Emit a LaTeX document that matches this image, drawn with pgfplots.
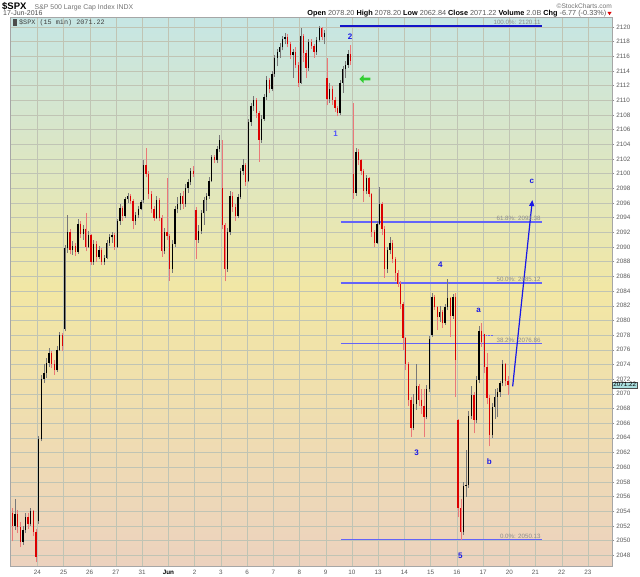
\documentclass[border=0pt]{standalone}
\usepackage{pgfplots}
\usepackage{pgfplotstable}
\pgfplotsset{compat=1.18}
\usepackage{fontspec}
\setmainfont{Liberation Sans}
\setmonofont{Liberation Mono}
\usetikzlibrary{arrows.meta,shapes.arrows}
\definecolor{bgtop}{RGB}{198,230,228}
\definecolor{bgmid}{RGB}{242,231,164}
\definecolor{bgbot}{RGB}{236,210,190}
\definecolor{gridc}{RGB}{192,196,180}
\definecolor{fibc}{RGB}{100,100,248}
\definecolor{fibtop}{RGB}{20,20,200}
\definecolor{ewc}{RGB}{25,25,230}
\definecolor{ewlight}{RGB}{80,80,255}
\definecolor{downc}{RGB}{220,0,0}
\definecolor{downw}{RGB}{235,120,120}
\definecolor{upw}{RGB}{120,120,120}
\definecolor{boxc}{RGB}{170,222,222}
\pgfplotstableread{
t o h l c
0.05 2053.8 2054.4 2049.9 2052.0
0.15 2052.0 2055.6 2051.5 2053.6
0.25 2053.6 2054.2 2051.0 2051.8
0.35 2051.8 2052.5 2049.1 2049.8
0.45 2049.8 2052.0 2049.4 2051.5
0.55 2051.5 2053.8 2051.0 2053.2
0.65 2053.2 2053.8 2051.6 2052.2
0.75 2052.2 2054.5 2052.0 2054.0
0.85 2054.0 2054.2 2050.6 2051.2
0.95 2051.2 2051.6 2047.1 2047.8
1.05 2052.6 2064.2 2052.3 2063.8
1.15 2063.8 2072.6 2063.5 2072.0
1.25 2072.0 2074.0 2071.5 2072.8
1.35 2072.8 2074.9 2072.2 2074.2
1.45 2074.2 2076.2 2073.6 2075.5
1.55 2075.5 2075.8 2073.5 2074.0
1.65 2074.0 2074.6 2072.6 2073.2
1.75 2073.2 2076.5 2073.0 2076.0
1.85 2076.0 2078.4 2075.8 2078.0
1.95 2078.0 2078.3 2075.8 2076.5
2.05 2078.8 2090.3 2078.5 2089.8
2.15 2089.8 2094.3 2089.2 2092.0
2.25 2092.0 2092.4 2089.0 2089.6
2.35 2089.6 2090.8 2088.9 2090.2
2.45 2090.2 2090.5 2088.8 2089.3
2.55 2089.3 2093.8 2089.1 2093.2
2.65 2093.2 2093.5 2091.2 2091.8
2.75 2091.8 2093.0 2091.0 2092.5
2.85 2092.5 2094.7 2089.4 2090.0
2.95 2090.0 2092.2 2089.8 2091.6
3.05 2091.6 2091.8 2087.6 2088.0
3.15 2088.0 2091.0 2087.6 2090.4
3.25 2090.4 2090.8 2088.0 2088.6
3.35 2088.6 2090.2 2088.3 2089.6
3.45 2089.6 2089.8 2087.6 2088.0
3.55 2088.0 2088.9 2087.6 2088.5
3.65 2088.5 2091.0 2088.3 2090.6
3.75 2090.6 2091.8 2090.2 2091.3
3.85 2091.3 2092.0 2090.6 2091.6
3.95 2091.6 2091.9 2089.6 2090.0
4.05 2090.0 2093.8 2089.9 2093.5
4.15 2093.5 2095.8 2093.0 2095.3
4.25 2095.3 2095.6 2093.6 2094.2
4.35 2094.2 2096.8 2094.0 2096.5
4.45 2096.5 2097.4 2096.0 2097.0
4.55 2097.0 2097.2 2095.8 2096.3
4.65 2096.3 2096.5 2092.4 2093.6
4.75 2093.6 2094.8 2093.0 2094.3
4.85 2094.3 2095.6 2094.0 2095.2
4.95 2095.2 2096.4 2095.0 2096.1
5.05 2096.4 2101.8 2096.0 2101.2
5.15 2101.2 2103.5 2099.5 2100.0
5.25 2100.0 2100.3 2096.6 2097.2
5.35 2097.2 2097.6 2094.6 2095.2
5.45 2095.2 2095.6 2093.6 2094.0
5.55 2094.0 2097.0 2093.8 2096.4
5.65 2096.4 2096.7 2093.5 2094.0
5.75 2094.0 2094.3 2088.7 2089.4
5.85 2089.4 2092.6 2089.0 2092.0
5.95 2092.0 2099.4 2091.0 2091.5
6.05 2091.5 2091.8 2085.4 2087.0
6.15 2087.0 2091.0 2086.5 2090.4
6.25 2090.4 2095.6 2090.0 2095.2
6.35 2095.2 2096.8 2094.6 2095.8
6.45 2095.8 2097.4 2095.0 2097.0
6.55 2097.0 2097.6 2095.2 2095.8
6.65 2095.8 2098.6 2095.5 2098.0
6.75 2098.0 2099.2 2097.4 2098.8
6.85 2098.8 2100.8 2098.4 2100.4
6.95 2100.4 2101.0 2099.6 2100.0
7.05 2095.0 2095.4 2088.4 2091.0
7.15 2091.0 2093.0 2090.6 2092.2
7.25 2092.2 2095.0 2091.8 2094.6
7.35 2094.6 2096.8 2093.0 2096.4
7.45 2096.4 2097.4 2094.9 2097.0
7.55 2097.0 2099.5 2096.6 2099.0
7.65 2099.0 2102.6 2098.8 2102.2
7.75 2102.2 2102.6 2101.4 2101.8
7.85 2101.8 2103.8 2101.4 2103.4
7.95 2103.4 2105.3 2103.0 2104.6
8.05 2098.0 2104.6 2092.5 2093.0
8.15 2093.0 2093.3 2085.3 2087.0
8.25 2087.0 2092.6 2086.6 2092.0
8.35 2092.0 2097.6 2091.6 2097.0
8.45 2097.0 2097.5 2094.8 2095.4
8.55 2095.4 2095.8 2093.6 2094.2
8.65 2094.2 2097.2 2094.0 2096.8
8.75 2096.8 2100.8 2096.5 2100.3
8.85 2100.3 2102.0 2099.8 2101.2
8.95 2101.2 2101.5 2098.3 2098.9
9.05 2099.0 2107.5 2098.8 2107.0
9.15 2107.0 2109.6 2106.5 2109.2
9.25 2109.2 2110.6 2108.6 2110.0
9.35 2110.0 2110.3 2107.6 2108.2
9.45 2108.2 2108.6 2101.6 2104.6
9.55 2104.6 2108.0 2104.2 2107.5
9.65 2107.5 2110.9 2107.2 2110.5
9.75 2110.5 2113.3 2110.0 2112.8
9.85 2112.8 2113.0 2111.0 2111.6
9.95 2111.6 2114.0 2111.3 2113.6
10.05 2113.6 2116.2 2113.2 2115.8
10.15 2115.8 2117.0 2114.6 2116.6
10.25 2116.6 2117.8 2115.8 2117.2
10.35 2117.2 2118.8 2116.8 2118.4
10.45 2118.4 2119.2 2117.6 2118.6
10.55 2118.6 2119.0 2117.2 2117.6
10.65 2117.6 2118.0 2115.6 2116.2
10.75 2116.2 2117.0 2113.0 2116.6
10.85 2116.6 2117.2 2114.4 2114.8
10.95 2114.8 2115.2 2111.8 2112.4
11.05 2112.4 2119.8 2112.2 2118.8
11.15 2118.8 2119.0 2115.2 2116.4
11.25 2116.4 2116.8 2113.0 2114.4
11.35 2114.4 2118.4 2114.0 2117.9
11.45 2117.9 2118.4 2117.0 2117.4
11.55 2117.4 2117.6 2115.8 2116.6
11.65 2116.6 2118.6 2116.2 2118.2
11.75 2118.2 2120.11 2118.0 2119.8
11.85 2119.8 2120.0 2118.2 2118.6
11.95 2118.6 2119.6 2117.6 2119.2
12.05 2113.0 2115.7 2109.3 2110.2
12.15 2110.2 2112.4 2109.6 2111.6
12.25 2111.6 2111.9 2109.4 2110.0
12.35 2110.0 2110.4 2108.4 2108.9
12.45 2108.9 2109.2 2107.8 2108.2
12.55 2108.2 2112.8 2108.0 2112.4
12.65 2112.4 2114.6 2111.0 2114.2
12.75 2114.2 2115.4 2113.0 2114.8
12.85 2114.8 2116.8 2114.4 2116.3
12.95 2116.3 2117.5 2114.8 2115.4
13.05 2100.0 2109.6 2096.6 2097.4
13.15 2097.4 2103.5 2097.0 2103.0
13.25 2103.0 2103.4 2101.2 2101.8
13.35 2101.8 2102.0 2099.8 2100.4
13.45 2100.4 2100.6 2096.2 2097.6
13.55 2097.6 2099.8 2097.2 2099.4
13.65 2099.4 2099.6 2096.8 2097.2
13.75 2097.2 2097.4 2091.4 2092.0
13.85 2092.0 2092.3 2090.0 2090.6
13.95 2090.6 2093.6 2090.4 2093.2
14.05 2093.2 2098.2 2093.0 2095.8
14.15 2095.8 2096.2 2091.6 2092.4
14.25 2092.4 2092.8 2085.8 2087.0
14.35 2087.0 2090.0 2086.4 2089.6
14.45 2089.6 2091.4 2089.0 2090.6
14.55 2090.6 2090.9 2087.8 2088.4
14.65 2088.4 2088.7 2085.4 2086.4
14.75 2086.4 2086.8 2084.6 2085.0
14.85 2085.0 2085.3 2081.6 2082.2
14.95 2082.2 2082.5 2076.0 2077.6
15.05 2077.6 2077.8 2073.2 2074.0
15.15 2074.0 2074.3 2068.4 2069.2
15.25 2069.2 2069.6 2064.1 2065.4
15.35 2065.4 2070.0 2065.0 2068.6
15.45 2068.6 2074.1 2067.8 2071.0
15.55 2071.0 2071.4 2068.4 2069.2
15.65 2069.2 2070.6 2067.2 2068.4
15.75 2068.4 2070.6 2064.1 2066.8
15.85 2066.8 2071.2 2066.5 2070.6
15.95 2070.6 2077.9 2070.2 2077.4
16.05 2078.0 2083.8 2077.8 2083.2
16.15 2083.2 2083.4 2081.4 2081.8
16.25 2081.8 2082.0 2078.7 2080.4
16.35 2080.4 2082.0 2079.8 2081.2
16.45 2081.2 2081.4 2079.0 2079.6
16.55 2079.6 2082.2 2079.4 2081.8
16.65 2081.8 2085.7 2081.4 2083.0
16.75 2083.0 2083.2 2077.8 2080.6
16.85 2080.6 2083.6 2080.2 2083.2
16.95 2083.2 2083.8 2069.6 2074.6
17.05 2066.4 2066.6 2053.2 2054.4
17.15 2054.4 2055.6 2050.13 2051.2
17.25 2051.2 2058.0 2050.8 2057.4
17.35 2057.4 2062.3 2056.0 2057.6
17.45 2057.6 2067.6 2057.2 2067.0
17.55 2067.0 2071.0 2066.6 2069.8
17.65 2069.8 2070.2 2064.6 2066.4
17.75 2066.4 2072.4 2066.0 2071.9
17.85 2071.9 2079.2 2071.4 2078.6
17.95 2078.6 2079.6 2076.4 2077.0
18.05 2078.2 2078.2 2072.8 2073.6
18.15 2073.6 2075.5 2068.6 2069.4
18.25 2069.4 2069.8 2062.84 2064.4
18.35 2064.4 2068.8 2064.0 2068.2
18.45 2068.2 2070.6 2066.6 2069.6
18.55 2069.6 2070.8 2066.8 2070.2
18.65 2070.2 2071.8 2069.6 2071.4
18.75 2071.4 2074.6 2071.0 2074.0
18.85 2074.0 2074.2 2071.0 2071.8
18.95 2071.8 2072.4 2069.8 2071.22
}\bars
\begin{document}
\begin{tikzpicture}
\useasboundingbox (0pt,0pt) rectangle (640pt,576pt);
\begin{axis}[
  at={(10.7pt,10pt)}, anchor=south west,
  width=601.6pt, height=548.3pt, scale only axis,
  xmin=-0.0145, xmax=22.93, ymin=2046.53, ymax=2121.25,
  clip mode=individual,
  axis background/.style={shade, top color=bgtop, bottom color=bgbot, middle color=bgmid},
  axis line style={draw=black!35, line width=0.5pt},
  grid=major, grid style={draw=gridc, line width=0.4pt},
  xtick={1,2,...,22},
  xticklabels={24,25,26,27,31,\textbf{\color{black}Jun},2,3,6,7,8,9,10,13,14,15,16,17,20,21,22,23},
  xtick style={draw=none},
  ytick={2048,2050,...,2120},
  ytick pos=right, yticklabel pos=right,
  ytick style={draw=black!45, line width=0.4pt},
  tick align=outside, major tick length=2pt,
  ticklabel style={font=\fontsize{6.3}{7}\selectfont, text=black!65},
  xticklabel style={yshift=1pt},
  yticklabel style={xshift=-1.5pt},
  /pgf/number format/assume math mode=true,
  /pgf/number format/1000 sep={},
]
% fibonacci lines (beneath the candles)
\addplot[draw=fibtop, line width=1.5pt, forget plot] coordinates {(12.56,2120.11) (20.26,2120.11)};
\addplot[draw=fibc, line width=1.8pt, forget plot, unbounded coords=jump] coordinates {
  (12.58,2093.38) (20.26,2093.38) (20.26,nan)
  (12.58,2085.12) (20.26,2085.12) (20.26,nan)
  (12.58,2076.86) (20.26,2076.86) (20.26,nan)
  (12.58,2050.13) (20.26,2050.13)};
\addplot[draw=fibc, densely dotted, line width=0.6pt, forget plot] coordinates {(17.99,2078.0) (18.36,2078.0)};
% wicks (low to high)
\addplot[forget plot, draw=upw, line width=0.5pt, mark=none,
  quiver={u={0}, v={\thisrow{h}-\thisrow{l}}},
  restrict expr to domain={\thisrow{c}-\thisrow{o}}{0:200}]
  table[x=t, y=l] {\bars};
\addplot[forget plot, draw=downw, line width=0.5pt, mark=none,
  quiver={u={0}, v={\thisrow{h}-\thisrow{l}}},
  restrict expr to domain={\thisrow{c}-\thisrow{o}}{-200:-0.0001}]
  table[x=t, y=l] {\bars};
% bodies (open to close)
\addplot[forget plot, draw=black, line width=1.3pt, mark=none,
  quiver={u={0}, v={\thisrow{c}-\thisrow{o}}},
  restrict expr to domain={\thisrow{c}-\thisrow{o}}{0:200}]
  table[x=t, y=o] {\bars};
\addplot[forget plot, draw=downc, line width=1.3pt, mark=none,
  quiver={u={0}, v={\thisrow{c}-\thisrow{o}}},
  restrict expr to domain={\thisrow{c}-\thisrow{o}}{-200:-0.0001}]
  table[x=t, y=o] {\bars};
% projection arrow
\addplot[draw=ewc, line width=1.2pt, -{Triangle[length=6pt,width=5pt]}, forget plot] coordinates {(19.13,2071.0) (19.88,2096.4)};
% fib labels
\begin{scope}[every node/.style={anchor=south east, inner sep=1pt, font=\fontsize{6.2}{7}\selectfont, text=black!45}]
\node at (axis cs:20.24,2120.11) {100.0\%: 2120.11};
\node at (axis cs:20.24,2093.38) {61.8\%: 2093.38};
\node at (axis cs:20.24,2085.12) {50.0\%: 2085.12};
\node at (axis cs:20.24,2076.86) {38.2\%: 2076.86};
\node at (axis cs:20.24,2050.13) {0.0\%: 2050.13};
\end{scope}
% wave labels
\begin{scope}[every node/.style={inner sep=0pt, font=\bfseries\fontsize{8}{9}\selectfont, text=ewc}]
\node at (axis cs:12.93,2118.7) {2};
\node[text=ewlight] at (axis cs:12.38,2105.5) {1};
\node at (axis cs:15.47,2062.0) {3};
\node at (axis cs:16.37,2087.6) {4};
\node at (axis cs:17.13,2047.9) {5};
\node at (axis cs:17.83,2081.4) {a};
\node at (axis cs:18.24,2060.8) {b};
\node at (axis cs:19.86,2098.9) {c};
\end{scope}
% green arrow
\node[single arrow, fill={rgb,255:red,50;green,205;blue,50}, draw=none, shape border rotate=180,
  minimum height=11pt, minimum width=8.5pt, single arrow head extend=2pt, inner sep=0.8pt, outer sep=0pt]
  at (axis cs:13.52,2112.9) {};
% legend
\fill[black!70] (axis cs:0.07,2120.15) rectangle (axis cs:0.22,2121.05);
\node[anchor=west, inner sep=0pt, font=\ttfamily\fontsize{6.8}{7}\selectfont, text=black!75] at (axis cs:0.3,2120.62) {\$SPX (15 min) 2071.22};
% last price box
\node[anchor=west, fill=boxc, draw=black!70, line width=0.4pt, inner sep=0.8pt, font=\fontsize{6.3}{7}\selectfont] at (axis cs:22.93,2071.22) {2071.22};
\end{axis}
% header
\node[anchor=base west, inner sep=0pt, font=\bfseries\fontsize{9.5}{10}\selectfont] at (2pt,566.5pt) {\$SPX};
\node[anchor=base west, inner sep=0pt, font=\fontsize{6.9}{7}\selectfont, text=black!55] at (34.5pt,566.5pt) {S\&P 500 Large Cap Index INDX};
\node[anchor=base west, inner sep=0pt, font=\fontsize{7}{8}\selectfont, text=black!70] at (3pt,560pt) {17-Jun-2016};
\node[anchor=base east, inner sep=0pt, font=\fontsize{6.6}{7}\selectfont, text=black!55] at (612pt,567pt) {©StockCharts.com};
\node[anchor=base east, inner sep=0pt, font=\fontsize{7.3}{8}\selectfont, text=black!65] at (606.5pt,560pt) {\textbf{\color{black}Open} 2078.20 \textbf{\color{black}High} 2078.20 \textbf{\color{black}Low} 2062.84 \textbf{\color{black}Close} 2071.22 \textbf{\color{black}Volume} 2.0B \textbf{\color{black}Chg} -6.77 (-0.33\%)};
\fill[downc] (607.5pt,564pt) -- (611.5pt,564pt) -- (609.5pt,560.8pt) -- cycle;
\end{tikzpicture}
\end{document}
